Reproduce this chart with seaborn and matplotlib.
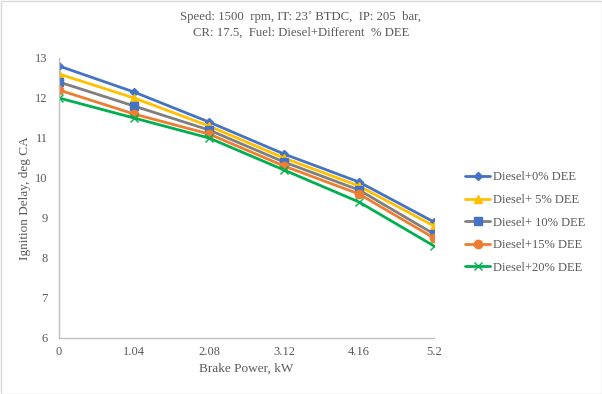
import matplotlib
matplotlib.use("Agg")
import matplotlib.pyplot as plt
import seaborn as sns
import pandas as pd

brake_power = [0, 1.04, 2.08, 3.12, 4.16, 5.2]
dee_0 = [12.8, 12.15, 11.4, 10.6, 9.9, 8.9]
dee_5 = [12.6, 12.0, 11.3, 10.5, 9.8, 8.8]
dee_10 = [12.4, 11.8, 11.2, 10.4, 9.7, 8.6]
dee_15 = [12.2, 11.6, 11.1, 10.3, 9.6, 8.5]
dee_20 = [12.0, 11.5, 11.0, 10.2, 9.4, 8.3]
series_names = ["Diesel+0% DEE", "Diesel+ 5% DEE", "Diesel+ 10% DEE",
                "Diesel+15% DEE", "Diesel+20% DEE"]
series_values = [dee_0, dee_5, dee_10, dee_15, dee_20]
y_ticks = [6, 7, 8, 9, 10, 11, 12, 13]

sns.set_theme(style="white")
plt.rcParams['font.family'] = ['Liberation Serif', 'DejaVu Serif']

fig = plt.figure(figsize=(6.02, 3.94), dpi=100)
ax = fig.add_axes([59/602, 56/394, (434-59)/602, (338-58)/394])

styles = [
    dict(color="#4472C4", marker="D", ms=4, mfc="#4472C4", mec="#4472C4", mew=1),
    dict(color="#FFC000", marker="^", ms=6, mfc="#FFC000", mec="#FFC000", mew=1),
    dict(color="#7F7F7F", marker="s", ms=5.5, mfc="#4472C4", mec="#4472C4", mew=1),
    dict(color="#ED7D31", marker="o", ms=6, mfc="#ED7D31", mec="#ED7D31", mew=1),
    dict(color="#00B050", marker="x", ms=6, mfc="#00B050", mec="#00B050", mew=1),
]

for name, vals, st in zip(series_names, series_values, styles):
    df = pd.DataFrame({"x": brake_power, "y": vals})
    sns.lineplot(data=df, x="x", y="y", ax=ax, label=name, color=st["color"],
                 linewidth=2, marker=st["marker"], markersize=st["ms"],
                 markerfacecolor=st["mfc"], markeredgecolor=st["mec"],
                 markeredgewidth=st["mew"])

ax.set_xlim(0, 5.2)
ax.set_ylim(6, 13)
ax.set_xticks(brake_power)
ax.set_xticklabels(["0", "1.04", "2.08", "3.12", "4.16", "5.2"])
ax.set_yticks(y_ticks)
ax.tick_params(axis='x', labelsize=9, colors="#595959", length=0, pad=6)
ax.tick_params(axis='y', labelsize=9, colors="#595959", length=0, pad=8)
for s in ["top", "right"]:
    ax.spines[s].set_visible(False)
for s in ["left", "bottom"]:
    ax.spines[s].set_color("#BFBFBF")
    ax.spines[s].set_linewidth(1)

ax.set_xlabel("Brake Power, kW", fontsize=9.5, color="#595959", labelpad=3)
ax.set_ylabel("Ignition Delay, deg CA", fontsize=9.5, color="#595959", labelpad=3)
fig.text(0.5, 1 - 17/394, "Speed: 1500  rpm, IT: 23˚ BTDC,  IP: 205  bar,",
         ha="center", va="center", fontsize=9.2, color="#595959")
fig.text(0.5, 1 - 33/394, "CR: 17.5,  Fuel: Diesel+Different  % DEE",
         ha="center", va="center", fontsize=9.2, color="#595959")

leg = ax.legend(loc="upper left", bbox_to_anchor=(454/602, 1 - 160/394),
                bbox_transform=fig.transFigure, frameon=False, fontsize=9,
                handlelength=2.0, labelspacing=0.85, handletextpad=0.25)
for t in leg.get_texts():
    t.set_color("#595959")

fig.patches.append(plt.Rectangle((0.5/602, 0.5/394), 1 - 1/602, 1 - 1/394,
                                 transform=fig.transFigure, fill=False,
                                 edgecolor="#D9D9D9", linewidth=1))
fig.savefig("out.png", dpi=100)
